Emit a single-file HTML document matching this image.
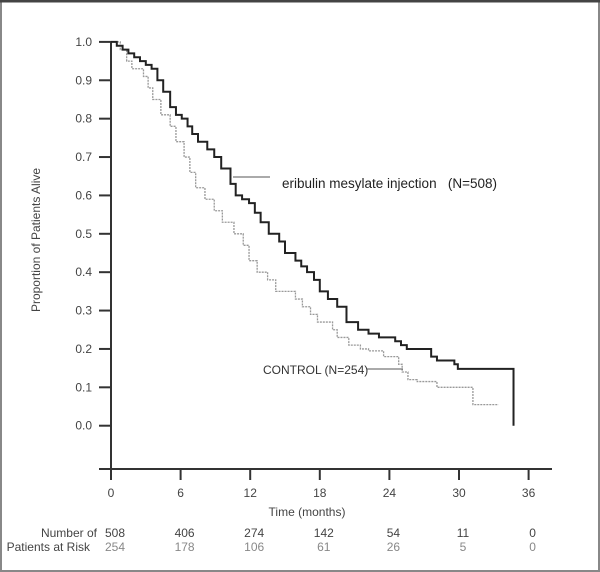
<!DOCTYPE html>
<html><head><meta charset="utf-8"><style>
body{margin:0;background:#fff}
svg{display:block;font-family:"Liberation Sans",sans-serif}
</style></head><body>
<svg id="c" width="600" height="572">
<rect x="1" y="1" width="598" height="570" fill="#fff" stroke="#888" stroke-width="2"/>
<line x1="0" y1="1" x2="600" y2="1" stroke="#444" stroke-width="3"/>
<g id="g"></g>
</svg>
<script>
const xTicks=[0,6,12,18,24,30,36];
const yTicks=[0.0,0.1,0.2,0.3,0.4,0.5,0.6,0.7,0.8,0.9,1.0];
const eribT=[0,0.5,1,1.5,2,2.5,3,3.5,4,4.5,5.1,5.6,6.1,6.6,7,7.5,8.3,8.9,9.5,10.3,10.75,11.3,11.9,12.4,12.9,13.6,14.5,15,15.9,16.4,16.9,17.5,18,18.7,19.5,20.3,21.3,22.2,23.1,24.5,25,25.5,27.6,28.1,29.6,29.9,34.7];
const eribS=[1.0,0.99,0.98,0.97,0.96,0.95,0.94,0.93,0.9,0.87,0.83,0.81,0.80,0.78,0.76,0.74,0.72,0.70,0.67,0.63,0.60,0.59,0.58,0.555,0.53,0.50,0.48,0.45,0.43,0.415,0.40,0.38,0.35,0.33,0.31,0.27,0.25,0.24,0.23,0.22,0.21,0.20,0.18,0.17,0.16,0.148,0.0];
const ctrlT=[0,0.8,1.35,1.8,2.8,3.2,3.6,4.3,5.1,5.6,6.3,6.8,7.3,8.1,8.9,9.6,10.6,11.4,11.9,12.6,13.5,14.2,15.9,16.5,17.2,17.8,19.1,19.5,20.5,21.5,22.2,23.5,24.8,25.1,25.6,26.4,28.1,31.2,33.4];
const ctrlS=[1.0,0.98,0.95,0.93,0.91,0.88,0.85,0.81,0.78,0.74,0.70,0.66,0.62,0.59,0.56,0.53,0.50,0.47,0.43,0.40,0.38,0.35,0.33,0.31,0.29,0.27,0.25,0.23,0.21,0.20,0.195,0.18,0.16,0.14,0.12,0.115,0.10,0.055,0.055];
const riskE=[508,406,274,142,54,11,0];
const riskC=[254,178,106,61,26,5,0];
const X=m=>111+11.6*m, Y=v=>425.7-383.8*v;
const NS='http://www.w3.org/2000/svg', g=document.getElementById('g');
function el(t,a,txt){const e=document.createElementNS(NS,t);for(const k in a)e.setAttribute(k,a[k]);if(txt!=null)e.textContent=txt;g.appendChild(e);return e;}
let e;
e=el('line',{x1:111,y1:Y(1),x2:111,y2:469,stroke:'#333','stroke-width':2});


e=el('line',{x1:99,y1:469,x2:552,y2:469,stroke:'#333','stroke-width':2});


yTicks.forEach(v=>{
 e=el('line',{x1:99,x2:111,y1:Y(v),y2:Y(v),stroke:'#333','stroke-width':2});
 
 
 e=el('text',{x:92,y:Y(v)+4,'text-anchor':'end','font-size':12,fill:'#444'},v.toFixed(1));
 
 
});
xTicks.forEach((m,i)=>{
 e=el('line',{x1:X(m),x2:X(m),y1:469,y2:480,stroke:'#333','stroke-width':2});
 
 
 e=el('text',{x:X(m),y:497,'text-anchor':'middle','font-size':12,fill:'#444'},m);
 
 
 e=el('text',{x:X(m)+4,y:537,'text-anchor':'middle','font-size':12,fill:'#444'},riskE[i]);
 
 
 e=el('text',{x:X(m)+4,y:551,'text-anchor':'middle','font-size':12,fill:'#888'},riskC[i]);
 
 
});
e=el('text',{x:307,y:516,'text-anchor':'middle','font-size':12,fill:'#444'},'Time (months)');


e=el('text',{x:97,y:537,'text-anchor':'end','font-size':12,fill:'#444'},'Number of');


e=el('text',{x:90,y:551,'text-anchor':'end','font-size':12,fill:'#444'},'Patients at Risk');


e=el('text',{x:0,y:0,transform:'translate(40,240) rotate(-90)','text-anchor':'middle','font-size':12,fill:'#444'},'Proportion of Patients Alive');


function step(T,S){let d=`M${X(T[0])},${Y(S[0])}`;for(let i=1;i<T.length;i++){d+=` H${X(T[i])} V${Y(S[i])}`;}return d;}
e=el('path',{d:step(ctrlT,ctrlS),fill:'none',stroke:'#999','stroke-width':1.3,'stroke-dasharray':'2,1'});


e=el('path',{d:step(eribT,eribS),fill:'none',stroke:'#222','stroke-width':2});


e=el('line',{x1:233,x2:270,y1:177,y2:177,stroke:'#555','stroke-width':1});


e=el('text',{x:282,y:188,'font-size':13.5,fill:'#222'},'eribulin mesylate injection   (N=508)');


e.setAttribute('xml:space','preserve');
e.style.whiteSpace='pre';
e=el('text',{x:263,y:374,'font-size':12,fill:'#333'},'CONTROL (N=254)');


e=el('line',{x1:367,x2:403,y1:369,y2:369,stroke:'#555','stroke-width':1});


</script>
</body></html>
